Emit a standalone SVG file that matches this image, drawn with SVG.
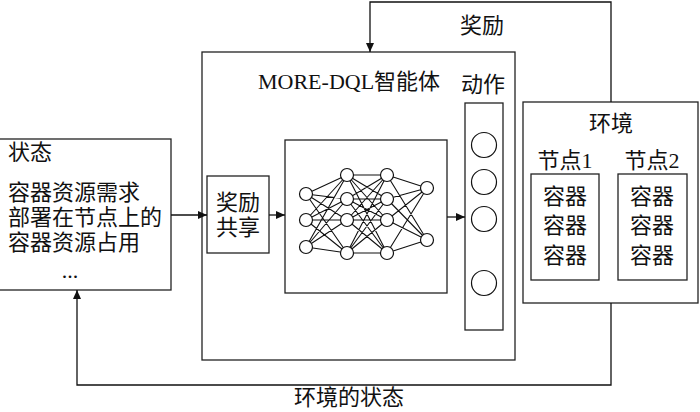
<svg xmlns="http://www.w3.org/2000/svg" width="700" height="412" viewBox="0 0 700 412">
<style>
.box{fill:#fff;stroke:#222;stroke-width:1.3}
.t{font-family:"Liberation Serif","Noto Sans CJK SC",serif;font-size:22px;fill:#111}
.m{text-anchor:middle}
.c{fill:none;stroke:#111;stroke-width:1.3}
.nn{fill:none;stroke:#111;stroke-width:1.1}
.n{fill:#fff;stroke:#111;stroke-width:1.2}
</style>
<defs>
<marker id="ah" markerWidth="10" markerHeight="10" refX="9" refY="5" orient="auto" markerUnits="userSpaceOnUse">
<path d="M0,1 L9,5 L0,9 Z" fill="#111"/>
</marker>
</defs>
<rect width="700" height="412" fill="#fff"/>
<g id="agent">
<rect class="box" x="202" y="52" width="313" height="308"/>
<text class="t" x="258" y="89">MORE-DQL智能体</text>
</g>
<g id="state">
<rect class="box" x="-1" y="139" width="172" height="151"/>
<text class="t" x="8" y="160">状态</text>
<text class="t" x="8" y="200">容器资源需求</text>
<text class="t" x="8" y="225">部署在节点上的</text>
<text class="t" x="8" y="250">容器资源占用</text>
<text class="t m" x="70" y="278">...</text>
</g>
<g id="reward-share">
<rect class="box" x="207" y="176" width="62" height="77"/>
<text class="t m" x="238" y="210">奖励</text>
<text class="t m" x="238" y="235">共享</text>
</g>
<g id="network">
<rect class="box" x="285" y="140" width="162" height="153"/>
<path class="nn" d="M306 194L347 175M306 194L347 199M306 194L347 220M306 194L347 253M306 220L347 175M306 220L347 199M306 220L347 220M306 220L347 253M306 247L347 175M306 247L347 199M306 247L347 220M306 247L347 253M347 175L387 175M347 175L387 199M347 175L387 220M347 175L387 253M347 199L387 175M347 199L387 199M347 199L387 220M347 199L387 253M347 220L387 175M347 220L387 199M347 220L387 220M347 220L387 253M347 253L387 175M347 253L387 199M347 253L387 220M347 253L387 253M387 175L427 188M387 175L427 240M387 199L427 188M387 199L427 240M387 220L427 188M387 220L427 240M387 253L427 188M387 253L427 240"/>
<circle class="n" cx="306" cy="194" r="6.5"/>
<circle class="n" cx="306" cy="220" r="6.5"/>
<circle class="n" cx="306" cy="247" r="6.5"/>
<circle class="n" cx="347" cy="175" r="6.5"/>
<circle class="n" cx="347" cy="199" r="6.5"/>
<circle class="n" cx="347" cy="220" r="6.5"/>
<circle class="n" cx="347" cy="253" r="6.5"/>
<circle class="n" cx="387" cy="175" r="6.5"/>
<circle class="n" cx="387" cy="199" r="6.5"/>
<circle class="n" cx="387" cy="220" r="6.5"/>
<circle class="n" cx="387" cy="253" r="6.5"/>
<circle class="n" cx="427" cy="188" r="6.5"/>
<circle class="n" cx="427" cy="240" r="6.5"/>
</g>
<g id="action">
<text class="t m" x="483" y="92">动作</text>
<rect class="box" x="465" y="103" width="38" height="227"/>
<circle class="n" cx="484" cy="145" r="12.5"/>
<circle class="n" cx="484" cy="182" r="12.5"/>
<circle class="n" cx="484" cy="219" r="12.5"/>
<circle class="n" cx="484" cy="283" r="12.5"/>
</g>
<g id="environment">
<rect class="box" x="523" y="102" width="175" height="201"/>
<text class="t m" x="611" y="131">环境</text>
<text class="t m" x="565" y="168">节点1</text>
<text class="t m" x="652" y="168">节点2</text>
</g>
<g id="node1">
<rect class="box" x="531" y="174" width="68" height="106"/>
<text class="t m" x="565" y="204">容器</text>
<text class="t m" x="565" y="233">容器</text>
<text class="t m" x="565" y="263">容器</text>
</g>
<g id="node2">
<rect class="box" x="618" y="174" width="69" height="106"/>
<text class="t m" x="652" y="204">容器</text>
<text class="t m" x="652" y="233">容器</text>
<text class="t m" x="652" y="263">容器</text>
</g>
<g id="connectors">
<path class="c" d="M611 102V2H370V52" marker-end="url(#ah)"/>
<path class="c" d="M611 303V385H77V290" marker-end="url(#ah)"/>
<path class="c" d="M171 215H207" marker-end="url(#ah)"/>
<path class="c" d="M269 215H285" marker-end="url(#ah)"/>
<path class="c" d="M447 217H465" marker-end="url(#ah)"/>
<text class="t m" x="482" y="33">奖励</text>
<text class="t m" x="349" y="405">环境的状态</text>
</g>
</svg>
